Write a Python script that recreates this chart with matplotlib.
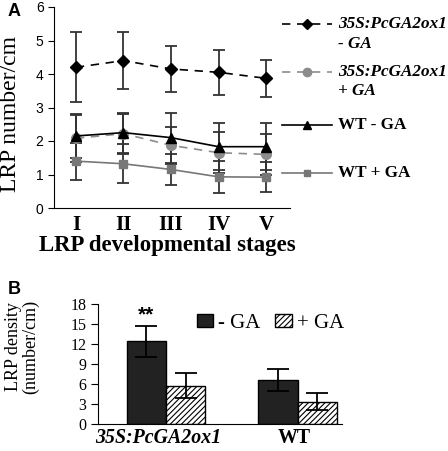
import matplotlib
matplotlib.use("Agg")
import matplotlib.pyplot as plt
import matplotlib.transforms as mtransforms
import numpy as np

# panel A data
STAGES = ["I", "II", "III", "IV", "V"]
OX_MINUS_GA = [4.2, 4.4, 4.15, 4.05, 3.87]
OX_MINUS_GA_ERR = [1.05, 0.85, 0.68, 0.68, 0.55]
OX_PLUS_GA = [2.08, 2.22, 1.87, 1.65, 1.6]
OX_PLUS_GA_ERR = [0.7, 0.6, 0.55, 0.62, 0.6]
WT_MINUS_GA = [2.15, 2.25, 2.1, 1.83, 1.83]
WT_MINUS_GA_ERR = [0.65, 0.6, 0.75, 0.7, 0.7]
WT_PLUS_GA = [1.4, 1.32, 1.15, 0.93, 0.92]
WT_PLUS_GA_ERR = [0.55, 0.58, 0.45, 0.47, 0.45]

# panel B data
GENOTYPES = ["35S:PcGA2ox1", "WT"]
DENSITY_MINUS_GA = [12.4, 6.65]
DENSITY_MINUS_GA_ERR = [2.3, 1.65]
DENSITY_PLUS_GA = [5.75, 3.37]
DENSITY_PLUS_GA_ERR = [1.9, 1.3]

SERIF = "Liberation Serif"
SANS = "Liberation Sans"

plt.rcParams["hatch.color"] = "#333333"
plt.rcParams["hatch.linewidth"] = 0.8

W, H = 448, 451
fig = plt.figure(figsize=(W / 100, H / 100), dpi=100)


def px_axes(left, top, right, bottom):
    return fig.add_axes([left / W, 1 - bottom / H, (right - left) / W, (bottom - top) / H])


# ---------------- panel A ----------------
ax = px_axes(54, 7, 290, 208)
x = np.arange(len(STAGES))

series = [
    (OX_MINUS_GA, OX_MINUS_GA_ERR, ["35S:PcGA2ox1", "- GA"], "black", "D", (0, (5, 4)), 6),
    (OX_PLUS_GA, OX_PLUS_GA_ERR, ["35S:PcGA2ox1", "+ GA"], "#8c8c8c", "o", (0, (5, 4)), 7),
    (WT_MINUS_GA, WT_MINUS_GA_ERR, ["WT - GA"], "black", "^", "-", 7),
    (WT_PLUS_GA, WT_PLUS_GA_ERR, ["WT + GA"], "#777777", "s", "-", 6),
]
# legend rows, placed by hand like the original figure
legend_rows = [0.915, 0.677, 0.413, 0.174]
line_step = 0.097

for (vals, errs, label, color, marker, ls, ms), ly in zip(series, legend_rows):
    ax.errorbar(x, vals, yerr=errs, fmt="none", ecolor="#333333",
                elinewidth=1.3, capsize=4, capthick=1.3, zorder=2)
    ax.plot(x, vals, color=color, linestyle=ls, linewidth=1.2,
            marker=marker, markersize=ms, markerfacecolor=color,
            markeredgecolor=color, zorder=3)
    # legend sample
    ax.plot([0.966, 1.178], [ly, ly], transform=ax.transAxes, clip_on=False,
            color=color, linestyle=ls, linewidth=1.2)
    ax.plot([1.072], [ly], transform=ax.transAxes, clip_on=False,
            marker=marker, markersize=ms - 1, color=color, linestyle="none")
    style = "italic" if len(label) > 1 else "normal"
    for k, line in enumerate(label):
        ax.text(1.203, ly - k * line_step, line, transform=ax.transAxes,
                ha="left", va="center", fontfamily=SERIF, fontweight="bold",
                fontstyle=style, fontsize=12.3)

ax.set_xlim(-0.46, 4.5)
ax.set_ylim(0, 6)
ax.set_yticks(range(0, 7))
ax.spines["top"].set_visible(False)
ax.spines["right"].set_visible(False)
ax.tick_params(axis="y", direction="out", length=4, labelsize=10)
for lab in ax.get_yticklabels():
    lab.set_fontfamily(SANS)
ax.set_xticks(x)
ax.set_xticklabels(STAGES, fontfamily=SERIF, fontweight="bold", fontsize=15)
ax.tick_params(axis="x", length=0, pad=5)
ax.set_xlabel("LRP developmental stages", fontfamily=SERIF, fontweight="bold",
              fontsize=16.5, labelpad=0)
ax.xaxis.label.set_x(0.48)

fig.text(11 / W, 1 - 114 / H, "LRP number/cm", rotation=90, ha="center",
         va="center", fontfamily=SERIF, fontsize=17)
fig.text(8 / W, 1 - 12 / H, "A", ha="left", va="center",
         fontfamily=SANS, fontweight="bold", fontsize=13)

# ---------------- panel B ----------------
bx = px_axes(98, 304, 342, 424)
gx = np.arange(len(GENOTYPES))
w = 0.3
bx.bar(gx - w / 2, DENSITY_MINUS_GA, w, color="#222222", edgecolor="black",
       linewidth=1.0, label="- GA", zorder=2)
bx.bar(gx + w / 2, DENSITY_PLUS_GA, w, color="white", edgecolor="black",
       hatch="//////", linewidth=1.0, label="+ GA", zorder=2)
bx.errorbar(gx - w / 2, DENSITY_MINUS_GA, yerr=DENSITY_MINUS_GA_ERR, fmt="none",
            ecolor="black", elinewidth=1.3, capsize=8, capthick=1.3, zorder=3)
bx.errorbar(gx + w / 2, DENSITY_PLUS_GA, yerr=DENSITY_PLUS_GA_ERR, fmt="none",
            ecolor="black", elinewidth=1.3, capsize=8, capthick=1.3, zorder=3)
bx.text(gx[0] - w / 2, DENSITY_MINUS_GA[0] + DENSITY_MINUS_GA_ERR[0] + 0.2, "**",
        ha="center", va="bottom", fontfamily=SANS, fontweight="bold", fontsize=15)

bx.set_xlim(-0.517, 1.338)
bx.set_ylim(0, 18)
bx.set_yticks(range(0, 19, 3))
bx.spines["top"].set_visible(False)
bx.spines["right"].set_visible(False)
bx.tick_params(axis="y", direction="out", length=5, labelsize=11.5)
for lab in bx.get_yticklabels():
    lab.set_fontfamily(SERIF)
bx.set_xticks(gx)
bx.set_xticklabels(GENOTYPES, fontfamily=SERIF, fontweight="bold", fontsize=14.3)
bx.get_xticklabels()[0].set_fontstyle("italic")
bx.tick_params(axis="x", length=0, pad=3)
# the original labels sit a little left of the bar groups
for lab, dx in zip(bx.get_xticklabels(), [-8, -3]):
    lab.set_transform(lab.get_transform()
                      + mtransforms.ScaledTranslation(dx / 100, 0, fig.dpi_scale_trans))

bx.legend(loc="upper left", bbox_to_anchor=(0.406, 0.92), ncol=2, frameon=False,
          handlelength=0.77, handleheight=0.63, handletextpad=0.24,
          columnspacing=0.72, borderaxespad=0, borderpad=0,
          prop={"family": SERIF, "size": 15})

fig.text(22 / W, 1 - 347 / H, "LRP density\n(number/cm)", rotation=90,
         ha="center", va="center", ma="center", fontfamily=SERIF, fontsize=13,
         linespacing=1.05)
fig.text(8 / W, 1 - 289 / H, "B", ha="left", va="center",
         fontfamily=SANS, fontweight="bold", fontsize=13)

fig.savefig("out.png", dpi=100)
